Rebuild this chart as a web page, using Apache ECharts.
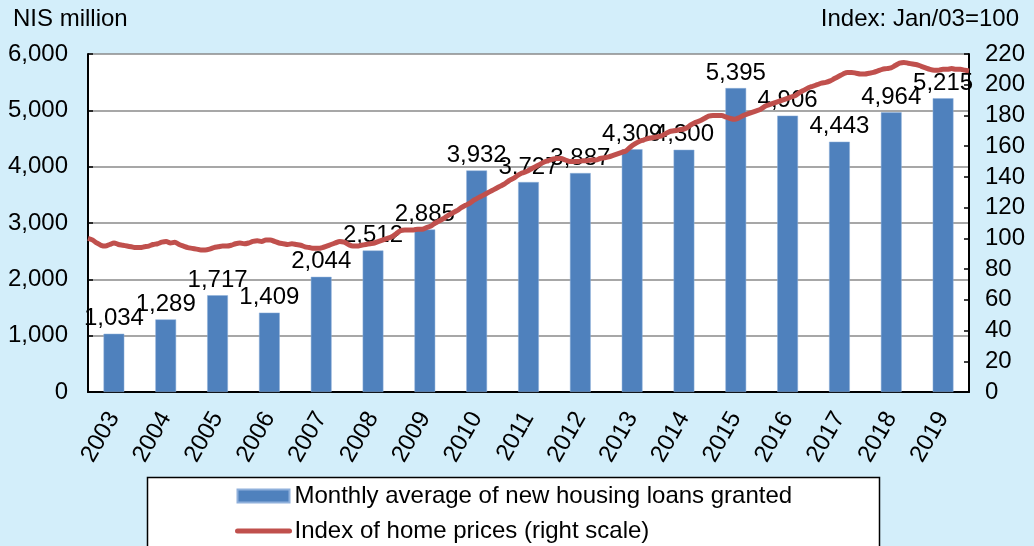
<!DOCTYPE html>
<html>
<head>
<meta charset="utf-8">
<script src="https://cdn.jsdelivr.net/npm/echarts@6/dist/echarts.min.js"></script>
<style>
  html, body { margin: 0; padding: 0; background: #d3eefa; }
  #main { width: 1034px; height: 546px; }
</style>
</head>
<body>
<div id="main"></div>
<script>
var years = ['2003', '2004', '2005', '2006', '2007', '2008', '2009', '2010', '2011',
    '2012', '2013', '2014', '2015', '2016', '2017', '2018', '2019'];
// monthly average of new housing loans, NIS million
var loans = [1034, 1289, 1717, 1409, 2044, 2512, 2885, 3932, 3727,
    3887, 4309, 4300, 5395, 4906, 4443, 4964, 5215];
// index of home prices, monthly, Jan/03=100
var homeIndex = [
    100, 99, 97, 95.5, 95, 96, 97, 96, 95.5, 95, 94.5, 94,
    94, 94.5, 95, 96, 96.5, 97.5, 98, 97, 97.5, 96, 95, 94,
    93.5, 93, 92.5, 92.5, 93, 94, 94.5, 95, 95, 95.5, 96.5, 97,
    96.5, 97, 98, 98.5, 98, 99, 99, 98, 97, 96.5, 96, 96.5,
    96, 95.5, 94.5, 94, 93.5, 93.5, 94, 95, 96, 97, 98, 97.5,
    96, 95, 95, 95.5, 96, 96.5, 97, 98, 99, 100, 101, 103,
    105, 105.5, 105.5, 105.5, 106, 106, 107, 108, 110, 111.5, 113, 115,
    116.5, 118, 120, 121.5, 123, 125, 126.5, 128, 129.5, 131, 132.5, 134,
    135.5, 137.5, 139, 141, 142.5, 143.5, 145, 146.5, 148, 149.5, 150.5, 151.5,
    152, 152, 151, 150, 150, 150, 150.5, 150.5, 151, 151, 152, 152.5,
    153, 154, 155, 156, 157, 159.5, 161.5, 163, 164, 165, 165.5, 166,
    166.5, 168, 169.5, 170, 170.5, 171, 172, 174, 175.5, 176.5, 178, 179.5,
    180, 180, 180, 179, 178, 177.5, 178.5, 180, 181, 182, 183, 184,
    186, 187, 188, 189, 190, 191, 192, 193, 195, 196.5, 198, 199,
    200, 201, 201.5, 202.5, 204, 205.5, 207, 208, 208, 207.5, 207, 207,
    207.5, 208, 209, 210, 210.5, 211, 212.5, 214, 214.5, 214, 213.5, 213,
    212, 211, 210, 209.5, 209.5, 210, 210, 210.5, 210, 210, 209.5, 209
];
var months = [];
for (var y = 0; y < years.length; y++) {
    for (var m = 1; m <= 12; m++) {
        months.push(years[y] + '-' + m);
    }
}

var fontFam = '"Liberation Sans", Arial, sans-serif';
var fs = 24;
var chart = echarts.init(document.getElementById('main'));
chart.setOption({
    backgroundColor: '#d3eefa',
    animation: false,
    textStyle: { fontFamily: fontFam, color: '#000' },
    title: [{
        text: 'NIS million', left: 8, top: 2,
        textStyle: { fontSize: fs, fontWeight: 'normal', color: '#000', fontFamily: fontFam }
    }, {
        text: 'Index: Jan/03=100', right: 10, top: 2,
        textStyle: { fontSize: fs, fontWeight: 'normal', color: '#000', fontFamily: fontFam }
    }],
    graphic: [{
        type: 'rect', z: 1,
        shape: { x: 147.5, y: 477.5, width: 732, height: 90 },
        style: { fill: '#fff', stroke: '#000', lineWidth: 1.5 }
    }],
    legend: {
        orient: 'vertical', left: 235, top: 484, height: 120, z: 10,
        padding: 0,
        itemWidth: 52, itemHeight: 13, itemGap: 11,
        textStyle: { fontSize: fs, color: '#000', fontFamily: fontFam },
        data: [
            { name: 'Monthly average of new housing loans granted', icon: 'rect' },
            { name: 'Index of home prices (right scale)', itemStyle: { opacity: 0 },
              lineStyle: { width: 5, cap: 'round' } }
        ]
    },
    grid: {
        left: 88, right: 65, top: 54, bottom: 154,
        show: true, backgroundColor: '#fff', borderWidth: 0
    },
    xAxis: [{
        type: 'category',
        data: years,
        axisLine: { lineStyle: { color: '#000', width: 2 } },
        axisTick: { inside: true, length: 6, lineStyle: { color: '#000', width: 1.5 } },
        axisLabel: { rotate: 60, fontSize: fs, color: '#000', margin: 22, fontFamily: fontFam }
    }, {
        type: 'category',
        data: months,
        boundaryGap: false,
        show: false
    }],
    yAxis: [{
        type: 'value', min: 0, max: 6000, interval: 1000,
        axisLine: { show: true, lineStyle: { color: '#000', width: 2 } },
        axisTick: { show: true, inside: true, length: 5, lineStyle: { color: '#000', width: 1.5 } },
        splitLine: { lineStyle: { color: '#8a8a8a', width: 1.5 } },
        axisLabel: {
            fontSize: fs, color: '#000', margin: 20, fontFamily: fontFam,
            formatter: function (v) { return v.toLocaleString('en-US'); }
        }
    }, {
        type: 'value', min: 0, max: 220, interval: 20,
        axisLine: { show: true, lineStyle: { color: '#000', width: 2 } },
        axisTick: { show: true, inside: true, length: 5, lineStyle: { color: '#000', width: 1.5 } },
        splitLine: { show: false },
        axisLabel: { fontSize: fs, color: '#000', margin: 16, fontFamily: fontFam }
    }],
    series: [{
        name: 'Monthly average of new housing loans granted',
        type: 'bar',
        data: loans,
        barWidth: '40%',
        itemStyle: { color: '#4f81bd', borderColor: '#8fb0db', borderWidth: 0.5 },
        label: {
            show: true, position: 'top', distance: 3,
            fontSize: fs, color: '#000', fontFamily: fontFam,
            formatter: function (p) { return p.value.toLocaleString('en-US'); }
        }
    }, {
        name: 'Index of home prices (right scale)',
        type: 'line',
        xAxisIndex: 1,
        yAxisIndex: 1,
        data: homeIndex,
        symbol: 'none',
        smooth: 0.3,
        lineStyle: { color: '#c0504d', width: 5 },
        itemStyle: { color: '#c0504d' }
    }]
});
</script>
</body>
</html>
